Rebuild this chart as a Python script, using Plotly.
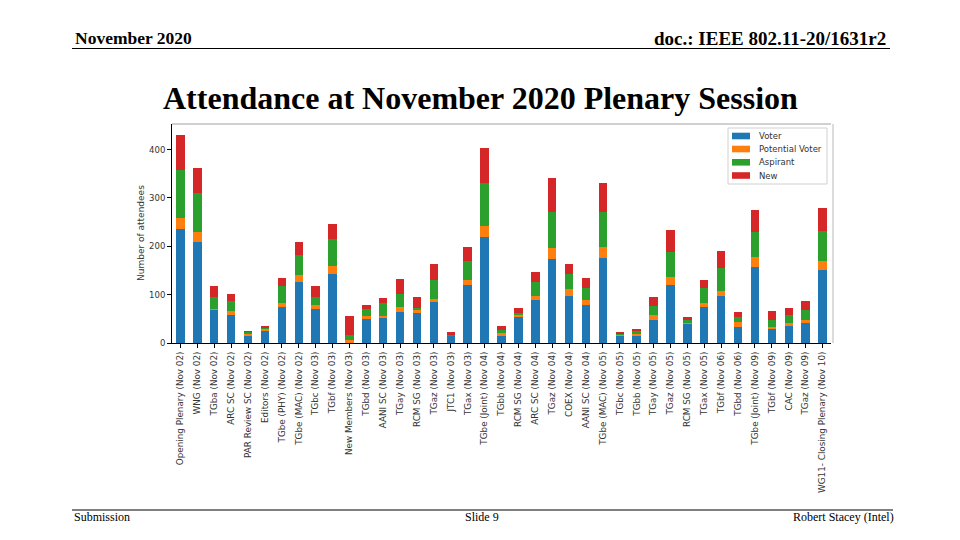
import plotly.graph_objects as go

categories = [
    "Opening Plenary (Nov 02)", "WNG (Nov 02)", "TGba (Nov 02)", "ARC SC (Nov 02)",
    "PAR Review SC (Nov 02)", "Editors (Nov 02)", "TGbe (PHY) (Nov 02)", "TGbe (MAC) (Nov 02)",
    "TGbc (Nov 03)", "TGbf (Nov 03)", "New Members (Nov 03)", "TGbd (Nov 03)",
    "AANI SC (Nov 03)", "TGay (Nov 03)", "RCM SG (Nov 03)", "TGaz (Nov 03)",
    "JTC1 (Nov 03)", "TGax (Nov 03)", "TGbe (Joint) (Nov 04)", "TGbb (Nov 04)",
    "RCM SG (Nov 04)", "ARC SC (Nov 04)", "TGaz (Nov 04)", "COEX (Nov 04)",
    "AANI SC (Nov 04)", "TGbe (MAC) (Nov 05)", "TGbc (Nov 05)", "TGbb (Nov 05)",
    "TGay (Nov 05)", "TGaz (Nov 05)", "RCM SG (Nov 05)", "TGax (Nov 05)",
    "TGbf (Nov 06)", "TGbd (Nov 06)", "TGbe (Joint) (Nov 09)", "TGbf (Nov 09)",
    "CAC (Nov 09)", "TGaz (Nov 09)", "WG11- Closing Plenary (Nov 10)",
]
voter = [236, 209, 69, 58, 16, 24, 74, 126, 71, 143, 2, 50, 52, 65, 63, 84, 15, 120, 219, 15,
         54, 88, 173, 98, 79, 176, 15, 15, 48, 119, 40, 74, 98, 34, 158, 30, 36, 41, 151]
potential_voter = [23, 21, 2, 9, 3, 6, 8, 15, 7, 16, 4, 5, 4, 9, 5, 7, 1, 11, 23, 5,
                   4, 10, 23, 14, 9, 23, 3, 4, 10, 17, 2, 9, 9, 9, 19, 3, 5, 7, 19]
aspirant = [98, 80, 24, 20, 4, 2, 36, 41, 18, 57, 10, 16, 26, 27, 5, 40, 1, 39, 89, 7,
            5, 28, 76, 31, 26, 72, 2, 6, 18, 52, 5, 30, 49, 11, 53, 15, 17, 21, 62]
new = [74, 53, 23, 14, 1, 3, 16, 27, 22, 30, 39, 8, 11, 32, 22, 33, 6, 28, 72, 9,
       10, 21, 70, 21, 21, 61, 3, 4, 19, 46, 7, 18, 34, 11, 46, 19, 14, 18, 48]
y_ticks = [0, 100, 200, 300, 400]
series_names = ["Voter", "Potential Voter", "Aspirant", "New"]
series_colors = ["#1f77b4", "#ff7f0e", "#2ca02c", "#d62728"]
series_values = [voter, potential_voter, aspirant, new]

x_idx = list(range(len(categories)))
fig = go.Figure()
for name, vals, col in zip(series_names, series_values, series_colors):
    fig.add_trace(go.Bar(x=x_idx, y=vals, name=name, marker=dict(color=col, line=dict(width=0)),
                         width=0.5, showlegend=False))

L, R, T, B = 172, 831, 124, 343
W, H = R - L, B - T

def px(x):
    return (x - L) / W

def py(y):
    return (B - y) / H

serif = "Liberation Serif, Times New Roman, serif"
sans = "DejaVu Sans, sans-serif"

fig.update_layout(
    width=960, height=540, barmode="stack",
    paper_bgcolor="white", plot_bgcolor="white",
    margin=dict(l=L, r=960 - R, t=T, b=540 - B, pad=0),
    showlegend=False,
    xaxis=dict(tickmode="array", tickvals=x_idx, ticktext=categories, tickangle=-90,
               range=[-0.5, len(categories) - 0.5], showgrid=False, zeroline=False,
               showline=True, linecolor="black", linewidth=1, ticks="outside", ticklen=4,
               tickcolor="black", tickfont=dict(family=sans, size=8.8, color="#333"),
               automargin=False),
    yaxis=dict(tickmode="array", tickvals=y_ticks, range=[0, 453], showgrid=False, zeroline=False,
               showline=True, linecolor="black", linewidth=1, ticks="outside", ticklen=4,
               tickcolor="black", tickfont=dict(family=sans, size=8.5, color="#333"),
               automargin=False),
    font=dict(family=sans),
)

shapes = [
    dict(type="line", xref="paper", yref="paper", x0=0, x1=1, y0=1, y1=1,
         line=dict(color="#d0d0d0", width=2)),
    dict(type="line", xref="paper", yref="paper", x0=px(833), x1=px(833), y0=0, y1=1,
         line=dict(color="#d0d0d0", width=1.5)),
    dict(type="line", xref="paper", yref="paper", x0=px(72), x1=px(890), y0=py(48.5), y1=py(48.5),
         line=dict(color="black", width=1)),
    dict(type="line", xref="paper", yref="paper", x0=px(72), x1=px(893), y0=py(510), y1=py(510),
         line=dict(color="black", width=1)),
    dict(type="rect", xref="paper", yref="paper", x0=px(728), x1=px(827), y0=py(128), y1=py(184),
         line=dict(color="#d0d0d0", width=1), fillcolor="rgba(255,255,255,0.9)"),
]
annotations = []
row_y = [136, 149, 162.3, 175.5]
for name, col, ry in zip(series_names, series_colors, row_y):
    shapes.append(dict(type="rect", xref="paper", yref="paper", x0=px(732), x1=px(750),
                       y0=py(ry - 3.3), y1=py(ry + 3.3), line=dict(width=0), fillcolor=col))
    annotations.append(dict(text=name, x=px(757), y=py(ry), xanchor="left", yanchor="middle",
                            font=dict(family=sans, size=8.5, color="#333")))
fig.update_layout(shapes=shapes)

annotations += [
    dict(text="<b>November 2020</b>", x=px(72.5), y=py(37.5), xanchor="left", yanchor="middle",
         font=dict(family=serif, size=17.5, color="black")),
    dict(text="<b>doc.: IEEE 802.11-20/1631r2</b>", x=px(888), y=py(38.5), xanchor="right", yanchor="middle",
         font=dict(family=serif, size=19, color="black")),
    dict(text="<b>Attendance at November 2020 Plenary Session</b>", x=px(480), y=py(98),
         xanchor="center", yanchor="middle", font=dict(family=serif, size=32, color="black")),
    dict(text="Submission", x=px(72), y=py(517), xanchor="left", yanchor="middle",
         font=dict(family=serif, size=12, color="black")),
    dict(text="Slide 9", x=px(482), y=py(517), xanchor="center", yanchor="middle",
         font=dict(family=serif, size=12, color="black")),
    dict(text="Robert Stacey (Intel)", x=px(896), y=py(517), xanchor="right", yanchor="middle",
         font=dict(family=serif, size=12, color="black")),
    dict(text="Number of attendees", x=px(141), y=py(233), textangle=-90, xanchor="center",
         yanchor="middle", font=dict(family=sans, size=9, color="#333")),
]
for a in annotations:
    a.update(xref="paper", yref="paper", showarrow=False)
fig.update_layout(annotations=annotations)

fig.write_html("out.html", config={"displayModeBar": False},
               post_script="document.body.style.margin='0';document.body.style.overflow='hidden';")
